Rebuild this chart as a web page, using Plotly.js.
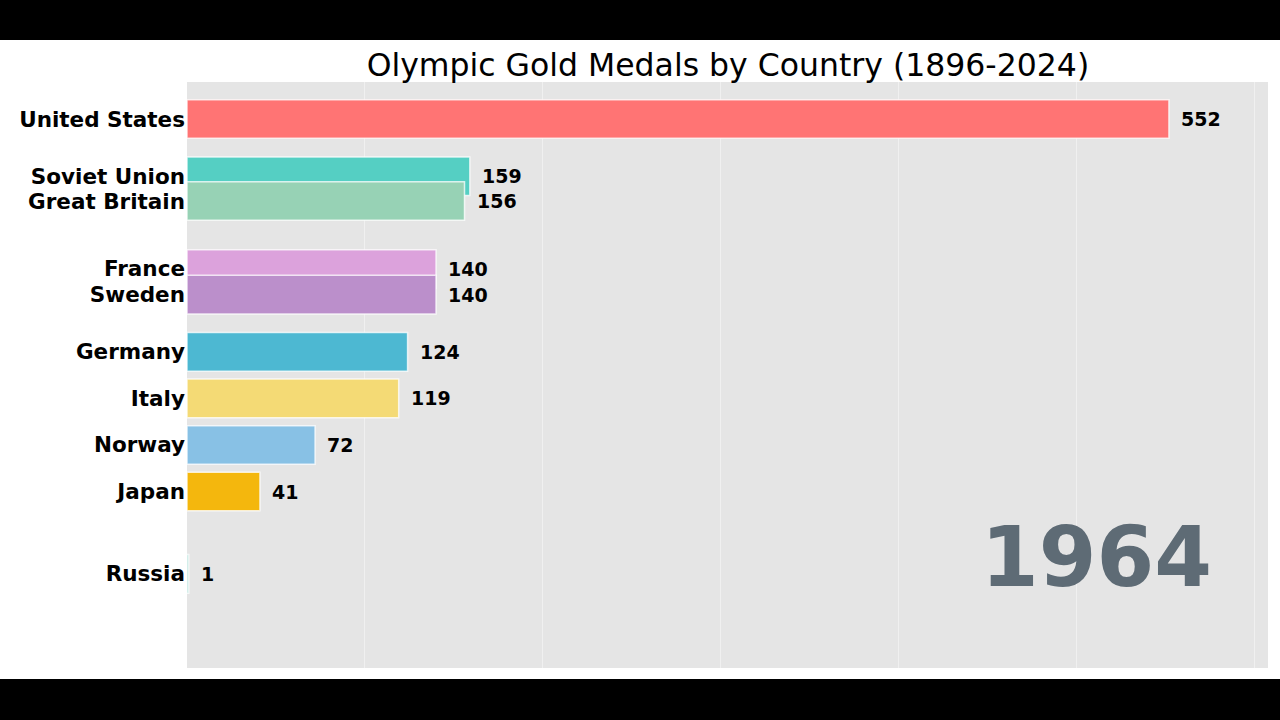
<!DOCTYPE html>
<html>
<head>
<meta charset="utf-8">
<script src="https://cdn.plot.ly/plotly-3.0.1.min.js"></script>
<style>
  html, body { margin: 0; padding: 0; background: #000; width: 1280px; height: 720px; overflow: hidden; }
  #chart { position: absolute; left: 0; top: 40px; width: 1280px; height: 639px; background: #fff; }
</style>
</head>
<body>
<div id="chart"></div>
<script>
// Frame of an animated bar-chart race (year 1964)
const countries = ["United States", "Soviet Union", "Great Britain", "France", "Sweden", "Germany", "Italy", "Norway", "Japan", "Russia"];
const goldMedals = [552, 159, 156, 140, 140, 124, 119, 72, 41, 1];
// interpolated rank of each bar in this animation frame (0 = top)
const ranks = [0, 1.23, 1.76, 3.22, 3.77, 5, 6, 7, 8, 9.77];
const barColors = ["#FF7474", "#55CFC3", "#97D2B5", "#DCA2DC", "#BB8FCB", "#4DB8D2", "#F4DA75", "#88C1E5", "#F4B70D", "#9ED8CF"];
const yearLabel = "1964";
const chartTitle = "Olympic Gold Medals by Country (1896-2024)";

const FONT = "DejaVu Sans, Verdana, sans-serif";

const trace = {
  type: "bar",
  orientation: "h",
  x: goldMedals,
  y: ranks,
  width: 0.83,
  marker: {
    color: barColors,
    line: { color: "rgba(255,255,255,0.75)", width: 1.5 }
  },
  hoverinfo: "skip",
  showlegend: false
};

const valueAnnotations = goldMedals.map((v, i) => ({
  x: v, y: ranks[i], xref: "x", yref: "y",
  text: "<b>" + v + "</b>",
  showarrow: false, xanchor: "left", yanchor: "middle", xshift: 10,
  font: { family: FONT, size: 19, color: "#000" }
}));

const plotW = 1280 - 187 - 12, plotH = 639 - 42 - 11;
const yearAnn = {
  x: (1214 - 187) / plotW, y: 1 - (557 - 40 - 42) / plotH,
  xref: "paper", yref: "paper",
  text: "<b>" + yearLabel + "</b>", showarrow: false,
  xanchor: "right", yanchor: "middle",
  font: { family: FONT, size: 83, color: "#5E6B75" }
};

const layout = {
  width: 1280, height: 639,
  margin: { l: 187, r: 12, t: 42, b: 11, pad: 0 },
  paper_bgcolor: "#ffffff",
  plot_bgcolor: "#e5e5e5",
  title: {
    text: chartTitle,
    font: { family: FONT, size: 31.5, color: "#000" },
    x: 0.5687, xanchor: "center", y: 0.961, yanchor: "middle"
  },
  xaxis: {
    range: [0, 607.7],
    showgrid: true, gridcolor: "#f0f0f0", gridwidth: 1.2,
    dtick: 100, tick0: 0,
    showticklabels: false, ticks: "",
    zeroline: false, showline: false, fixedrange: true
  },
  yaxis: {
    range: [11.79, -0.795],
    tickvals: ranks, ticktext: countries.map(c => "<b>" + c + "</b>"),
    tickfont: { family: FONT, size: 21.5, color: "#000" },
    ticks: "", showgrid: false, zeroline: false, showline: false,
    ticklabelstandoff: 1, fixedrange: true
  },
  annotations: valueAnnotations.concat([yearAnn]),
  bargap: 0
};

Plotly.newPlot("chart", [trace], layout, { displayModeBar: false, staticPlot: true });
</script>
</body>
</html>
